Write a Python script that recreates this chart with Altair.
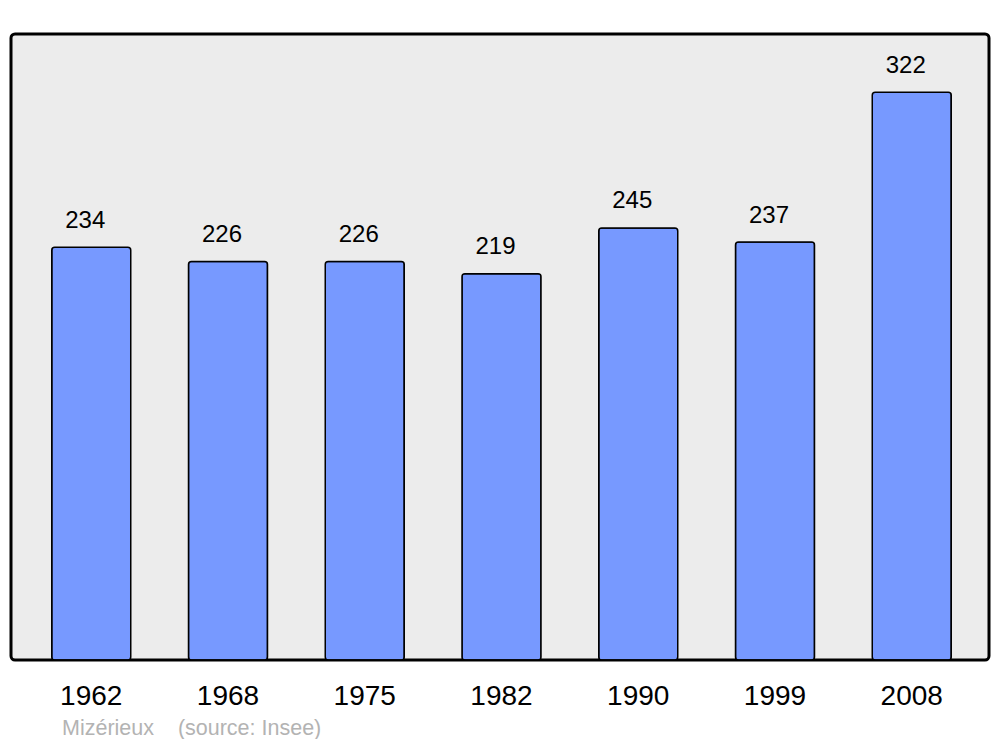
import altair as alt
import pandas as pd

years = ["1962", "1968", "1975", "1982", "1990", "1999", "2008"]
population = [234, 226, 226, 219, 245, 237, 322]

df = pd.DataFrame({"year": years, "pop": population})

x = alt.X("year:N", sort=years, title=None,
          scale=alt.Scale(range=[1.5, 979.5], paddingInner=0.4223, paddingOuter=0.287),
          axis=alt.Axis(labelAngle=0, labelFontSize=28, labelFont="Liberation Sans",
                        labelColor="black", ticks=False, domain=False,
                        labelBaseline="alphabetic", labelPadding=44))
y = alt.Y("pop:Q", scale=alt.Scale(domain=[0, 355], nice=False), axis=None)

bars = alt.Chart(df).mark_bar(
    color="#7799ff", stroke="black", strokeWidth=1.5, cornerRadius=3
).encode(x=x, y=y)

labels = alt.Chart(df).mark_text(
    fontSize=24, font="Liberation Sans", color="black",
    baseline="alphabetic", dy=-19.5, dx=-6
).encode(x=x, y=y, text="pop:Q")

chart = alt.layer(bars, labels).properties(
    width=978, height=626,
    autosize=alt.AutoSizeParams(type="none"),
    padding={"left": 3, "top": 26, "right": 3, "bottom": 79},
    title=alt.TitleParams(
        text="Mizérieux\u00a0\u00a0\u00a0\u00a0(source: Insee)",
        orient="bottom", anchor="start", fontSize=21.5, font="Liberation Sans",
        fontWeight="normal", color="#b3b3b3", dx=51, offset=8
    )
).configure_view(
    fill="#ececec", stroke="black", strokeWidth=3, cornerRadius=4
)

chart.save("out.html", embed_options={"renderer": "svg", "actions": False})
